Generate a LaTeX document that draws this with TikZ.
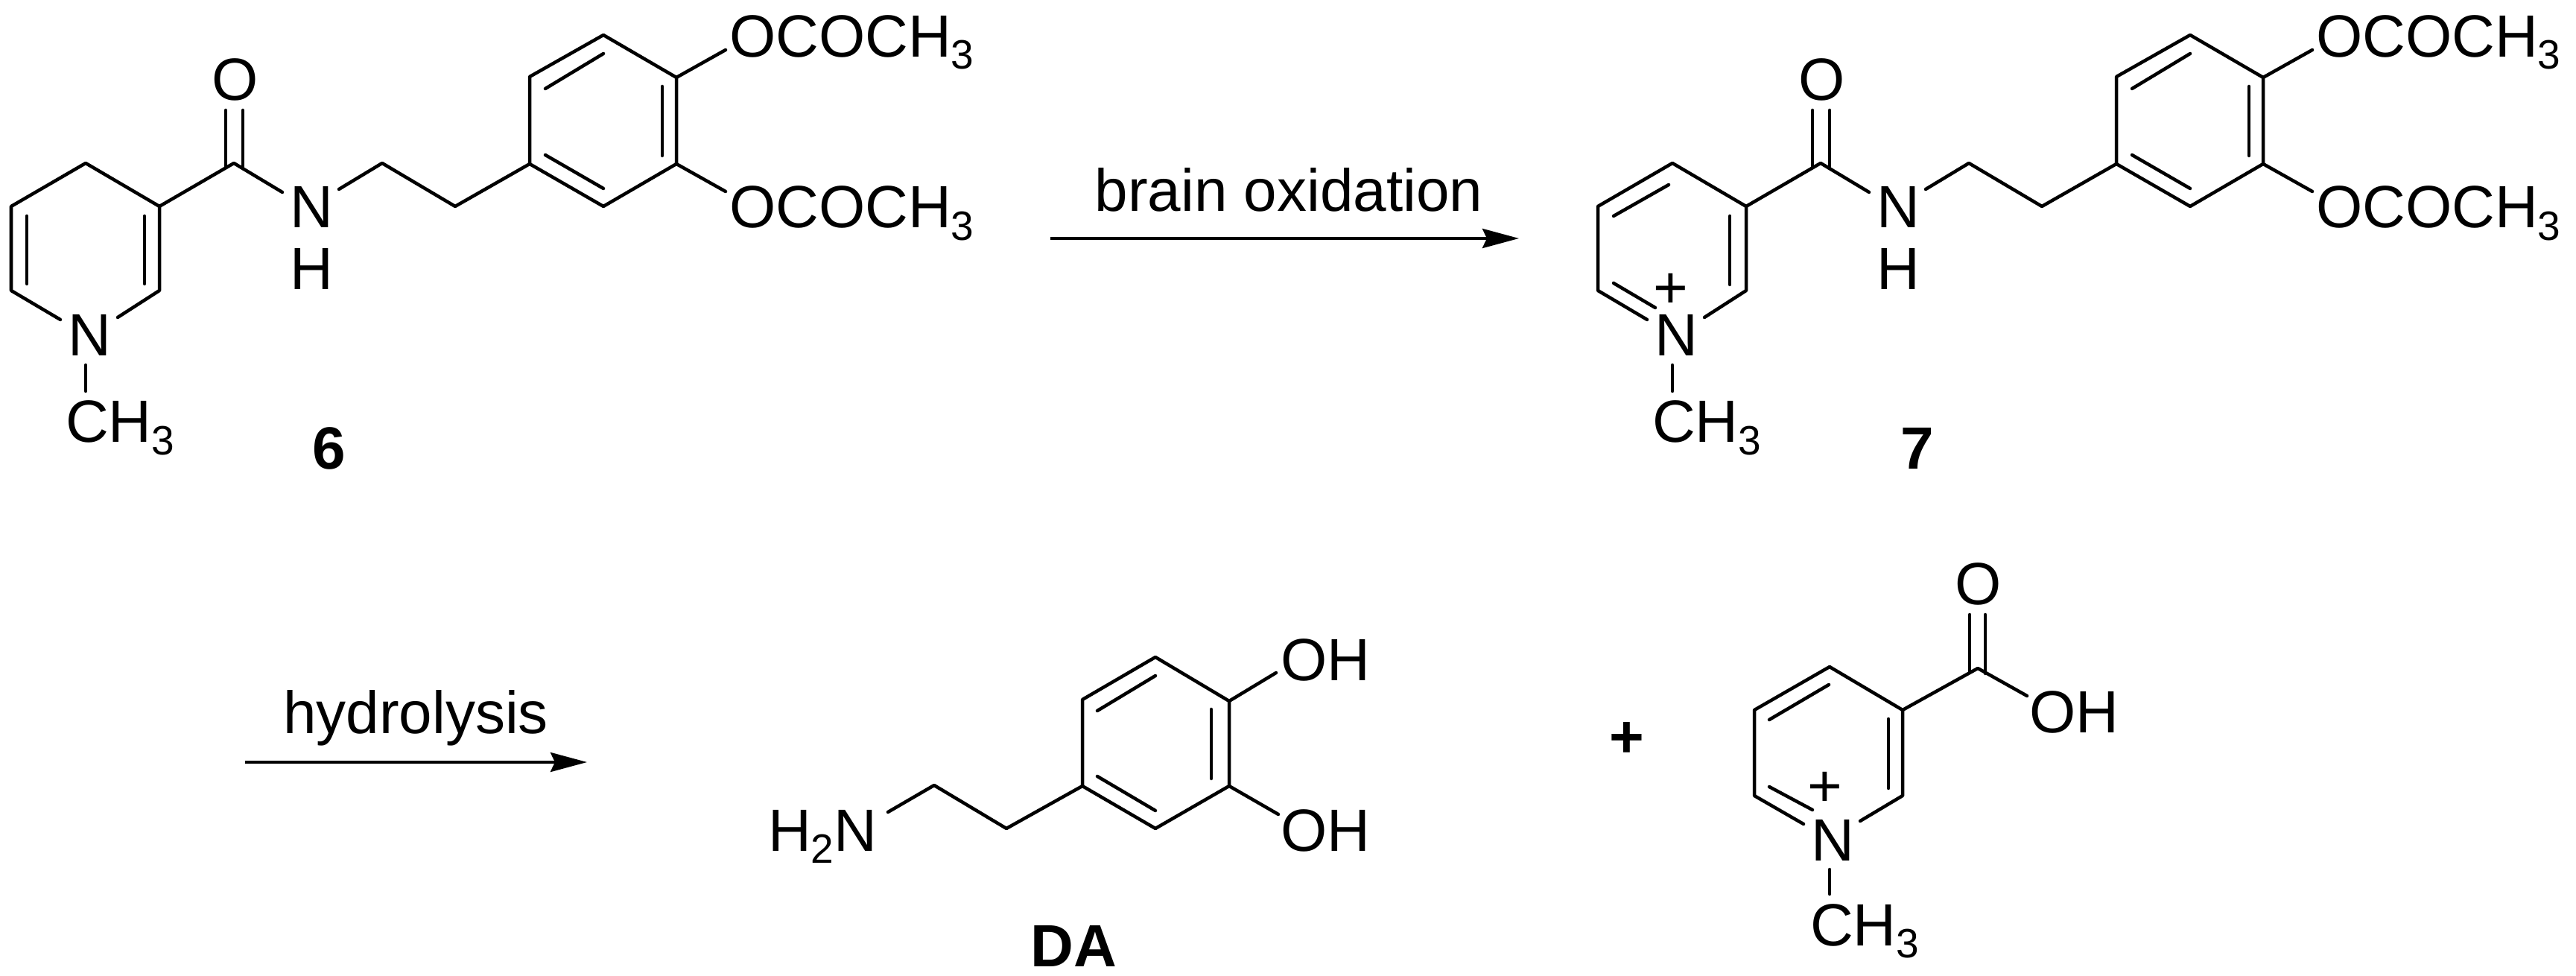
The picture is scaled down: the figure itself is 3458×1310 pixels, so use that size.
\documentclass[tikz,border=0pt]{standalone}
\usepackage{fontspec}
\setmainfont{Liberation Sans}
\usetikzlibrary{arrows.meta}
\newcommand{\subs}[1]{\raisebox{-0.16cm}{\fontsize{15.65pt}{16pt}\selectfont #1}}
\tikzset{
  bond/.style={line width=0.045cm,line join=round,line cap=round,black},
  atomw/.style={inner sep=0pt,outer sep=0pt,anchor=base west,font=\fontsize{22.76pt}{24pt}\selectfont,text=black},
  atomc/.style={inner sep=0pt,outer sep=0pt,anchor=base,font=\fontsize{22.76pt}{24pt}\selectfont,text=black},
  cpdlabel/.style={inner sep=0pt,outer sep=0pt,anchor=base,font=\fontsize{22.76pt}{24pt}\selectfont\bfseries,text=black},
  rxnarrow/.style={line width=0.04cm,black,-{Stealth[length=0.49cm,width=0.26cm,inset=0.06cm]}},
}
% the part shared by compounds 6 and 7
\newcommand{\amide}[2]{%
\begin{scope}[shift={(#2,0)}]
  \coordinate (#1r1) at (115,219);
  \coordinate (#1r2) at (15,277);
  \coordinate (#1r3) at (15,390);
  \coordinate (#1r3e) at (81,429);
  \coordinate (#1r5e) at (158,426);
  \coordinate (#1r5) at (214,390);
  \coordinate (#1r6) at (214,277);
  \coordinate (#1co) at (314,219);
  \coordinate (#1ol) at (303,148);
  \coordinate (#1or) at (326,148);
  \coordinate (#1olb) at (303,225);
  \coordinate (#1orb) at (326,226);
  \coordinate (#1ne) at (379,258);
  \coordinate (#1ns) at (455,254);
  \coordinate (#1c1) at (513,219);
  \coordinate (#1c2) at (611,277);
  \coordinate (#1b1) at (711,220);
  \coordinate (#1b2) at (711,103);
  \coordinate (#1b3) at (810,47);
  \coordinate (#1b4) at (908,104);
  \coordinate (#1b5) at (908,220);
  \coordinate (#1b6) at (810,277);
  \coordinate (#1d1a) at (732,119);
  \coordinate (#1d1b) at (810,72);
  \coordinate (#1d2a) at (889,116);
  \coordinate (#1d2b) at (889,209);
  \coordinate (#1d3a) at (732,208);
  \coordinate (#1d3b) at (810,253);
  \coordinate (#1oa) at (974,67);
  \coordinate (#1ob) at (974,257);
  \coordinate (#1me) at (115,490);
  \coordinate (#1mf) at (115,525);
  \node[atomc] (#1O) at (316,135) {O};
  \node[atomc] (#1N) at (418,306) {N};
  \node[atomc] (#1H) at (418,389) {H};
  \node[atomw] (#1ta) at (979,77) {OCOCH\subs{3}};
  \node[atomw] (#1tb) at (979,306) {OCOCH\subs{3}};
  \node[atomc] (#1Nr) at (120,478) {N};
  \node[atomw] (#1me3) at (88,594) {CH\subs{3}};
  \draw[bond] (#1r3e) -- (#1r3) -- (#1r2) -- (#1r1) -- (#1r6) -- (#1r5) -- (#1r5e);
  \draw[bond] (#1r6) -- (#1co) -- (#1ne);
  \draw[bond] (#1ol) -- (#1olb);
  \draw[bond] (#1or) -- (#1orb);
  \draw[bond] (#1ns) -- (#1c1) -- (#1c2) -- (#1b1);
  \draw[bond] (#1b1) -- (#1b2) -- (#1b3) -- (#1b4) -- (#1b5) -- (#1b6) -- cycle;
  \draw[bond] (#1d1a) -- (#1d1b);
  \draw[bond] (#1d2a) -- (#1d2b);
  \draw[bond] (#1d3a) -- (#1d3b);
  \draw[bond] (#1b4) -- (#1oa);
  \draw[bond] (#1b5) -- (#1ob);
  \draw[bond] (#1me) -- (#1mf);
\end{scope}}
\begin{document}
\begin{tikzpicture}[x=0.01cm,y=-0.01cm]
\useasboundingbox (0,0) rectangle (3458,1310);
\fill[white] (0,0) rectangle (3458,1310);
% compound 6
\amide{s}{0}
\coordinate (si1) at (36,290); \coordinate (si2) at (36,381);
\coordinate (si3) at (194,290); \coordinate (si4) at (194,381);
\draw[bond] (si1) -- (si2);
\draw[bond] (si3) -- (si4);
\node[cpdlabel] (six) at (442,630) {6};
% arrow 1
\coordinate (a1s) at (1410,320); \coordinate (a1e) at (2039,320);
\draw[rxnarrow] (a1s) -- (a1e);
\node[atomc] (a1t) at (1730,284) {brain oxidation};
% compound 7
\amide{v}{2130}
\coordinate (vi1) at (2166,290); \coordinate (vi2) at (2240,248);
\coordinate (vi3) at (2322,290); \coordinate (vi4) at (2322,382);
\coordinate (vi5) at (2166,380); \coordinate (vi6) at (2222,413);
\draw[bond] (vi1) -- (vi2);
\draw[bond] (vi3) -- (vi4);
\draw[bond] (vi5) -- (vi6);
\node[atomc] (vp) at (2243,414) {+};
\node[cpdlabel] (sev) at (2574,630) {7};
% arrow 2
\coordinate (a2s) at (329,1023); \coordinate (a2e) at (788,1023);
\draw[rxnarrow] (a2s) -- (a2e);
\node[atomc] (a2t) at (558,984) {hydrolysis};
% DA
\coordinate (d1) at (1453,1055); \coordinate (d2) at (1453,939);
\coordinate (d3) at (1551,882); \coordinate (d4) at (1650,941);
\coordinate (d5) at (1650,1055); \coordinate (d6) at (1551,1112);
\coordinate (dx1) at (1473,954); \coordinate (dx2) at (1551,907);
\coordinate (dx3) at (1626,952); \coordinate (dx4) at (1626,1045);
\coordinate (dx5) at (1473,1042); \coordinate (dx6) at (1551,1088);
\coordinate (doa) at (1713,903); \coordinate (dob) at (1716,1093);
\coordinate (dc1) at (1351,1112); \coordinate (dc2) at (1254,1054); \coordinate (dc3) at (1192,1090);
\draw[bond] (d1) -- (d2) -- (d3) -- (d4) -- (d5) -- (d6) -- cycle;
\draw[bond] (dx1) -- (dx2);
\draw[bond] (dx3) -- (dx4);
\draw[bond] (dx5) -- (dx6);
\draw[bond] (d4) -- (doa);
\draw[bond] (d5) -- (dob);
\draw[bond] (d1) -- (dc1) -- (dc2) -- (dc3);
\node[atomw] (doh1) at (1719,913) {OH};
\node[atomw] (doh2) at (1719,1142) {OH};
\node[atomw] (dnh) at (1031,1142) {H\subs{2}N};
\node[cpdlabel] (dal) at (1441,1297) {DA};
% plus
\node[cpdlabel] (pl) at (2184,1016) {+};
% N-methylnicotinic acid cation
\coordinate (e1) at (2456,895); \coordinate (e2) at (2355,953);
\coordinate (e3) at (2355,1068); \coordinate (e3e) at (2421,1106);
\coordinate (e5e) at (2497,1102); \coordinate (e5) at (2554,1068);
\coordinate (e6) at (2554,953);
\coordinate (ex1) at (2375,966); \coordinate (ex2) at (2455,919);
\coordinate (ex3) at (2535,965); \coordinate (ex4) at (2535,1058);
\coordinate (ex5) at (2375,1056); \coordinate (ex6) at (2433,1087);
\coordinate (ec) at (2655,897);
\coordinate (eol) at (2644,825); \coordinate (eor) at (2665,825);
\coordinate (eolb) at (2644,902); \coordinate (eorb) at (2665,904);
\coordinate (eoh) at (2721,934);
\coordinate (em1) at (2456,1167); \coordinate (em2) at (2456,1200);
\draw[bond] (e3e) -- (e3) -- (e2) -- (e1) -- (e6) -- (e5) -- (e5e);
\draw[bond] (ex1) -- (ex2);
\draw[bond] (ex3) -- (ex4);
\draw[bond] (ex5) -- (ex6);
\draw[bond] (e6) -- (ec) -- (eoh);
\draw[bond] (eol) -- (eolb);
\draw[bond] (eor) -- (eorb);
\draw[bond] (em1) -- (em2);
\node[atomc] (eO) at (2656,811) {O};
\node[atomw] (eOH) at (2724,983) {OH};
\node[atomc] (eN) at (2460,1155) {N};
\node[atomc] (ep) at (2450,1082) {+};
\node[atomw] (eme) at (2430,1269) {CH\subs{3}};
\end{tikzpicture}
\end{document}
